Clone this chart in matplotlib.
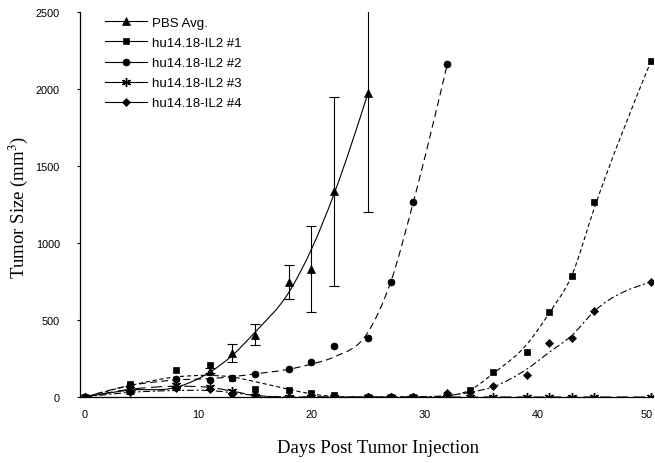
import matplotlib
matplotlib.use("Agg")
import matplotlib.pyplot as plt
import matplotlib.transforms as mtransforms
from matplotlib.path import Path
from matplotlib.patches import PathPatch
from matplotlib.lines import Line2D
import numpy as np

plt.rcParams['lines.scale_dashes'] = False
plt.rcParams['mathtext.fontset'] = 'stix'

# ---- data (markers) ----
days = [0, 4, 8, 11, 13, 15, 18, 20, 22, 25, 27, 29, 32, 34, 36, 39, 41, 43, 45, 50]
pbs_days = [0, 4, 8, 11, 13, 15, 18, 20, 22, 25]
pbs_avg = [0, 48, 72, 172, 286, 403, 747, 830, 1335, 1975]
pbs_err = [0, 0, 0, 18, 58, 68, 108, 280, 614, 774]
m1 = [0, 85, 175, 205, 125, 52, 48, 28, 15, 0, 0, 0, 10, 45, 162, 292, 552, 786, 1266, 2182]
m2_days = [0, 4, 8, 11, 13, 15, 18, 20, 22, 25, 27, 29, 32]
m2 = [0, 80, 120, 112, 123, 147, 180, 230, 331, 383, 747, 1266, 2162]
m3 = [0, 55, 80, 68, 40, 8, 0, 0, 0, 0, 0, 0, 0, 0, 0, 0, 0, 0, 0, 0]
m4 = [0, 30, 60, 55, 20, 10, 0, 0, 0, 0, 0, 0, 25, 35, 72, 143, 351, 383, 558, 747]

# ---- trend curves (values at the same days) ----
pbs_curve = [0, 45, 62, 160, 270, 420, 680, 960, 1320, 1975]
m1_curve = [0, 75, 130, 140, 130, 100, 50, 20, 3, 0, 0, 0, 5, 45, 150, 340, 545, 790, 1230, 2182]
m2_curve = [0, 75, 110, 120, 132, 150, 180, 214, 260, 422, 747, 1266, 2162]
m3_curve = [0, 50, 70, 62, 38, 10, 0, 0, 0, 0, 0, 0, 0, 0, 0, 0, 0, 0, 0, 0]
m4_curve = [0, 30, 42, 42, 28, 10, 0, 0, 0, 0, 0, 0, 10, 30, 65, 180, 290, 400, 558, 747]

labels = ['PBS Avg.', 'hu14.18-IL2 #1', 'hu14.18-IL2 #2', 'hu14.18-IL2 #3', 'hu14.18-IL2 #4']
xticks = [0, 10, 20, 30, 40, 50]
yticks = [0, 500, 1000, 1500, 2000, 2500]


def smooth_path(x, y):
    """Smooth C1 cubic Hermite curve through the points, drawn as Bezier segments."""
    x = np.asarray(x, float)
    y = np.asarray(y, float)
    n = len(x)
    d = np.diff(y) / np.diff(x)
    h = np.diff(x)
    m = np.zeros(n)
    for i in range(1, n - 1):
        m[i] = (d[i - 1] * h[i] + d[i] * h[i - 1]) / (h[i - 1] + h[i])
    m[0] = (3 * d[0] - m[1]) / 2 if n > 2 else d[0]
    m[-1] = (3 * d[-1] - m[-2]) / 2 if n > 2 else d[-1]
    verts = [(x[0], y[0])]
    codes = [Path.MOVETO]
    for i in range(n - 1):
        hh = h[i]
        verts += [(x[i] + hh / 3, y[i] + m[i] * hh / 3),
                  (x[i + 1] - hh / 3, y[i + 1] - m[i + 1] * hh / 3),
                  (x[i + 1], y[i + 1])]
        codes += [Path.CURVE4] * 3
    return Path(verts, codes)


fig = plt.figure(figsize=(6.55, 4.64), dpi=100)
ax = fig.add_axes([80 / 655, 66 / 464, 573 / 655, 385 / 464])

series = [
    (pbs_days, pbs_avg, pbs_curve, '^', 6.0, '-'),
    (days, m1, m1_curve, 's', 5.0, (0, (3, 2))),
    (m2_days, m2, m2_curve, 'o', 5.0, (0, (5, 3))),
    (days, m3, m3_curve, (6, 2, 0), 6.5, (0, (8, 4))),
    (days, m4, m4_curve, 'D', 4.5, (0, (5, 2, 1.5, 2))),
]

for x, y, yc, mk, ms, ls in series:
    patch = PathPatch(smooth_path(x, yc), facecolor='none', edgecolor='black',
                      linewidth=0.8, linestyle=ls, zorder=2)
    ax.add_patch(patch)
    ax.plot(x, y, linestyle='none', marker=mk, markersize=ms, color='black',
            markeredgewidth=1.0 if mk == (6, 2, 0) else 0.5, zorder=3)

ax.errorbar(pbs_days, pbs_avg, yerr=pbs_err, fmt='none', ecolor='black',
            elinewidth=0.8, capsize=3.3, capthick=0.8, zorder=3)

ax.set_xlim(-0.45, 50.17)
ax.set_ylim(0, 2500)
ax.set_xticks(xticks)
ax.set_yticks(yticks)
ax.spines['top'].set_visible(False)
ax.spines['right'].set_visible(False)
for s in ['left', 'bottom']:
    ax.spines[s].set_linewidth(0.9)
ax.tick_params(axis='y', direction='out', length=2.5, width=0.8, pad=12)
ax.tick_params(axis='x', length=0, pad=9)
for lab in ax.get_xticklabels() + ax.get_yticklabels():
    lab.set_fontfamily('Liberation Sans')
    lab.set_fontsize(7.8)
last = ax.get_xticklabels()[-1]
last.set_transform(last.get_transform() + mtransforms.ScaledTranslation(-4 / 100, 0, fig.dpi_scale_trans))

fig.text(378 / 655, 1 - 449 / 464, 'Days Post Tumor Injection', fontfamily='Liberation Serif',
         fontsize=13.5, ha='center', va='center')
fig.text(18 / 655, 1 - 207 / 464, r'Tumor Size (mm$^{3}$)', fontfamily='Liberation Serif',
         fontsize=13.5, ha='center', va='center', rotation=90)

handles = []
for (x, y, yc, mk, ms, ls), lab in zip(series, labels):
    handles.append(Line2D([], [], color='black', linewidth=0.8, marker=mk, markersize=ms,
                          markeredgewidth=1.0 if mk == (6, 2, 0) else 0.5))
leg = fig.legend(handles, labels, loc='upper left', bbox_to_anchor=(102 / 655, 1 - 15 / 464),
                 frameon=False, handlelength=3.2, handletextpad=0.4,
                 labelspacing=0.6, borderpad=0.2, borderaxespad=0,
                 prop={'family': 'Liberation Sans', 'size': 9.5})

fig.savefig('out.png', dpi=100)
